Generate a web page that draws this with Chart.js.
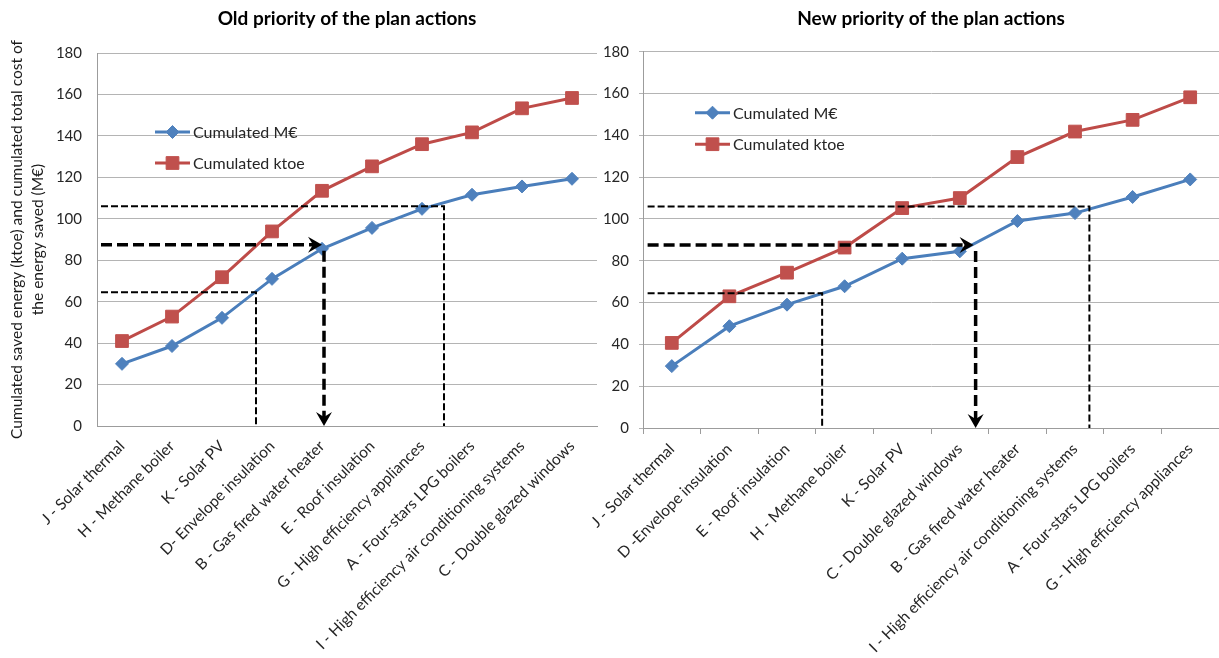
<!DOCTYPE html>
<html><head><meta charset="utf-8">
<script src="https://cdn.jsdelivr.net/npm/chart.js@4.4.1/dist/chart.umd.min.js"></script>
<style>
html,body{margin:0;padding:0;background:#fff;}
#wrap{position:relative;width:1219px;height:658px;overflow:hidden;background:#fff;}
#c1wrap{position:absolute;left:0;top:0;width:600px;height:658px;}
#c2wrap{position:absolute;left:560px;top:0;width:659px;height:658px;}
</style></head><body>
<div id="wrap"><div id="c1wrap"><canvas id="c1"></canvas></div><div id="c2wrap"><canvas id="c2"></canvas></div></div>
<script>
// ---- data ----
const oldCategories = ['J - Solar thermal','H - Methane boiler','K - Solar PV','D- Envelope insulation','B - Gas fired water heater','E - Roof insulation','G - High efficiency appliances','A - Four-stars LPG boilers','I - High efficiency air conditioning systems','C - Double glazed windows'];
const oldCostMEuro = [30, 38.6, 52.2, 71, 85.5, 95.6, 104.8, 111.6, 115.6, 119.3];
const oldEnergyKtoe = [41, 52.8, 71.8, 93.9, 113.5, 125.3, 136, 141.7, 153.3, 158.3];
const newCategories = ['J - Solar thermal','D -Envelope insulation','E - Roof insulation','H - Methane boiler','K - Solar PV','C - Double glazed windows','B - Gas fired water heater','I - High efficiency air conditioning systems','A - Four-stars LPG boilers','G - High efficiency appliances'];
const newCostMEuro = [29.6, 48.7, 59, 67.8, 81, 84.5, 99, 102.8, 110.5, 118.9];
const newEnergyKtoe = [40.7, 63, 74.3, 86.3, 105.2, 110, 129.6, 141.8, 147.4, 158.2];
const yTickValues = [0, 20, 40, 60, 80, 100, 120, 140, 160, 180];
const seriesLabels = ['Cumulated M\u20AC', 'Cumulated ktoe'];
const oldTitle = 'Old priority of the plan actions';
const newTitle = 'New priority of the plan actions';
const yAxisTitle = ['Cumulated saved energy (ktoe) and cumulated total cost of', 'the energy saved (M\u20AC)'];
// guide lines: horizontal levels (value) and the category position where each drops to 0
const oldGuideLevels = [106, 87.5, 64.5];
const oldGuideDrops = [6.44, 4.0, 2.68];
const newGuideLevels = [106, 87.5, 64.5];
const newGuideDrops = [7.25, 5.24, 2.61];

const FONT = 'Lato, "Open Sans", sans-serif';
const BLUE_LINE = '#4A7EBB', BLUE_PT = '#4F81BD';
const RED_LINE = '#BE4B48', RED_PT = '#C0504D';

const legendPlugin = {
  id: 'inlineLegend',
  afterDraw(chart, args, opts) {
    const {ctx, chartArea} = chart;
    chart.data.datasets.forEach((ds, i) => {
      const y = chartArea.top + opts.top + i * opts.gap;
      const x0 = chartArea.left + opts.left;
      ctx.save();
      ctx.strokeStyle = ds.borderColor; ctx.lineWidth = 3;
      ctx.beginPath(); ctx.moveTo(x0, y); ctx.lineTo(x0 + 35, y); ctx.stroke();
      ctx.fillStyle = ds.pointBackgroundColor; ctx.strokeStyle = ds.pointBorderColor; ctx.lineWidth = 1;
      Chart.helpers.drawPoint(ctx, {pointStyle: ds.pointStyle, radius: ds.pointRadius, borderWidth: 1, rotation: 0}, x0 + 17.5, y);
      ctx.fillStyle = '#262626'; ctx.font = '16px ' + FONT; ctx.textBaseline = 'middle'; ctx.textAlign = 'left';
      ctx.fillText(ds.label, x0 + 38, y + 1);
      ctx.restore();
    });
  }
};

function arrowHead(ctx, tx, ty, dir) {
  ctx.save();
  ctx.setLineDash([]);
  ctx.fillStyle = '#000';
  ctx.beginPath();
  if (dir === 'right') {
    ctx.moveTo(tx, ty); ctx.lineTo(tx - 14, ty - 8); ctx.lineTo(tx - 9, ty); ctx.lineTo(tx - 14, ty + 8);
  } else {
    ctx.moveTo(tx, ty); ctx.lineTo(tx - 8, ty - 14); ctx.lineTo(tx, ty - 9); ctx.lineTo(tx + 8, ty - 14);
  }
  ctx.closePath(); ctx.fill();
  ctx.restore();
}

const guidePlugin = {
  id: 'guides',
  afterDatasetsDraw(chart, args, opts) {
    const {ctx} = chart;
    const xs = chart.scales.x, ys = chart.scales.y;
    const x0 = xs.getPixelForValue(opts.start);
    const yBase = ys.getPixelForValue(0);
    opts.levels.forEach((lvl, i) => {
      const yl = ys.getPixelForValue(lvl);
      const xd = xs.getPixelForValue(opts.drops[i]);
      ctx.save();
      ctx.strokeStyle = '#000';
      if (i === 1) {
        ctx.lineWidth = 3.5; ctx.setLineDash([11, 5]);
        ctx.beginPath(); ctx.moveTo(x0, yl); ctx.lineTo(xd - 8, yl); ctx.stroke();
        arrowHead(ctx, xd, yl, 'right');
        ctx.beginPath(); ctx.moveTo(xd + 2, yl + 6); ctx.lineTo(xd + 2, yBase - 9); ctx.stroke();
        arrowHead(ctx, xd + 2, yBase, 'down');
      } else {
        ctx.lineWidth = 2; ctx.setLineDash([7, 3]);
        ctx.beginPath(); ctx.moveTo(x0, yl); ctx.lineTo(xd, yl); ctx.lineTo(xd, yBase); ctx.stroke();
      }
      ctx.restore();
    });
  }
};

function makeChart(id, cfg) {
  const datasets = [
    {label: seriesLabels[0], data: cfg.cost, borderColor: BLUE_LINE, backgroundColor: BLUE_PT, borderWidth: 3,
     pointStyle: 'rectRot', pointRadius: 6.5, pointBackgroundColor: BLUE_PT, pointBorderColor: BLUE_PT, pointBorderWidth: 1, tension: 0},
    {label: seriesLabels[1], data: cfg.energy, borderColor: RED_LINE, backgroundColor: RED_PT, borderWidth: 3,
     pointStyle: 'rect', pointRadius: 9, pointBackgroundColor: RED_PT, pointBorderColor: RED_PT, pointBorderWidth: 1, tension: 0}
  ];
  return new Chart(document.getElementById(id), {
    type: 'line',
    data: {labels: cfg.categories, datasets},
    plugins: [guidePlugin, legendPlugin],
    options: {
      responsive: true, maintainAspectRatio: false, animation: false,
      layout: {autoPadding: false, padding: {left: 0, right: cfg.padRight, top: 0, bottom: 0}},
      plugins: {
        legend: {display: false}, tooltip: {enabled: false},
        title: {display: true, text: cfg.title, fullSize: false, color: '#000',
                font: {family: FONT, size: 19, weight: 'bold', lineHeight: 1.2}, padding: {top: 7, bottom: cfg.titleBottom}},
        guides: {levels: cfg.levels, drops: cfg.drops, start: -0.42},
        inlineLegend: cfg.legend
      },
      scales: {
        x: {
          type: 'category', offset: true,
          grid: {display: true, drawOnChartArea: false, drawTicks: cfg.xTicks, tickLength: 6, color: '#9c9c9c', offset: true},
          border: {display: true, color: '#9c9c9c', width: 1},
          ticks: {autoSkip: false, minRotation: 45, maxRotation: 45, padding: cfg.xPad, color: '#262626', font: {family: FONT, size: 15.5}},
          afterFit: s => { s.height = cfg.xHeight; s.paddingLeft = 0; s.paddingRight = 0; }
        },
        y: {
          min: 0, max: 180,
          afterBuildTicks: s => { s.ticks = yTickValues.map(v => ({value: v})); },
          grid: {color: '#b4b4b4', lineWidth: 1, drawTicks: cfg.yTicks, tickLength: 4},
          border: {display: true, color: '#9c9c9c', width: 1},
          ticks: {padding: cfg.yPad, color: '#262626', font: {family: FONT, size: 15}},
          title: cfg.yTitle ? {display: true, text: yAxisTitle, color: '#1a1a1a', font: {family: FONT, size: 15.5, lineHeight: 1.37}, padding: {top: 6, bottom: 0}} : {display: false},
          afterFit: s => { s.width = cfg.yWidth; }
        }
      }
    }
  });
}

makeChart('c1', {categories: oldCategories, cost: oldCostMEuro, energy: oldEnergyKtoe, title: oldTitle,
  levels: oldGuideLevels, drops: oldGuideDrops, padRight: 3, titleBottom: 23.2, xTicks: false, xPad: 11, xHeight: 232,
  yTicks: false, yPad: 15, yTitle: true, yWidth: 97, legend: {left: 58, top: 79, gap: 31}});
makeChart('c2', {categories: newCategories, cost: newCostMEuro, energy: newEnergyKtoe, title: newTitle,
  levels: newGuideLevels, drops: newGuideDrops, padRight: 0, titleBottom: 21.9, xTicks: true, xPad: 6, xHeight: 230,
  yTicks: true, yPad: 10, yTitle: false, yWidth: 83, legend: {left: 52, top: 61, gap: 31.5}});
</script>
</body></html>
